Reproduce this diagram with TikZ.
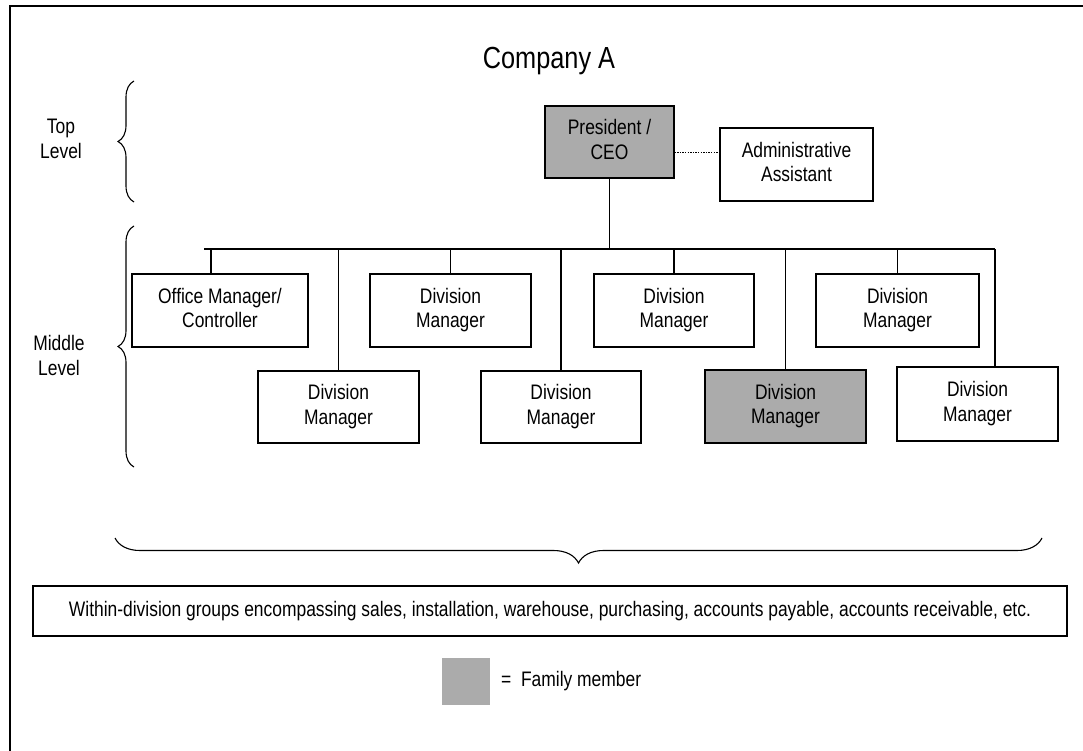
\documentclass[tikz,border=0pt]{standalone}
\usepackage{fontspec}
\setmainfont{Liberation Sans}
\usetikzlibrary{decorations.pathreplacing}
% all lettering in the chart is set slightly condensed
\newcommand\narrow[1]{\scalebox{0.83}[1]{#1}}
\newcommand\twolines[2]{\scalebox{0.83}[1]{\begin{tabular}{@{}c@{}}#1\\#2\end{tabular}}}
\begin{document}
\begin{tikzpicture}[x=1pt,y=-1pt,
  lbl/.style={font=\fontsize{21}{24.5}\selectfont, inner sep=0pt},
  orgbox/.style={draw, line width=1.2pt, inner sep=0pt, font=\fontsize{21}{24.5}\selectfont},
  family/.style={fill=black!33},
  link/.style={line width=1.1pt},
  bracket/.style={decorate, decoration={brace, amplitude=#1}, line width=1.1pt}]
\useasboundingbox (0,0) rectangle (1083,751);

% page frame
\draw[line width=1.3pt] (10,751) -- (10,6) -- (1083,6);

% title
\node[lbl, anchor=base] (title) at (549,69) {\fontsize{30.5}{36}\selectfont\narrow{Company A}};

% top level
\node[orgbox, family, minimum width=129pt, minimum height=72pt] (ceo) at (609.5,142) {\twolines{President /}{CEO}};
\node[orgbox, minimum width=153pt, minimum height=73pt] (asst) at (796.5,164.5) {\twolines{Administrative}{Assistant}};

% middle level, upper row
\node[orgbox, minimum width=176pt, minimum height=73pt] (office) at (220,310.5) {\twolines{Office Manager/}{Controller}};
\node[orgbox, minimum width=161pt, minimum height=73pt] (dm2) at (450.5,310.5) {\twolines{Division}{Manager}};
\node[orgbox, minimum width=160pt, minimum height=73pt] (dm4) at (674,310.5) {\twolines{Division}{Manager}};
\node[orgbox, minimum width=163pt, minimum height=73pt] (dm6) at (897.5,310.5) {\twolines{Division}{Manager}};

% middle level, lower row
\node[orgbox, minimum width=161pt, minimum height=72pt] (dm1) at (338.5,407) {\twolines{Division}{Manager}};
\node[orgbox, minimum width=160pt, minimum height=72pt] (dm3) at (561,407) {\twolines{Division}{Manager}};
\node[orgbox, family, minimum width=161pt, minimum height=73pt] (dm5) at (785.5,406.5) {\twolines{Division}{Manager}};
\node[orgbox, minimum width=161pt, minimum height=74pt] (dm7) at (977.5,404) {\twolines{Division}{Manager}};

% reporting lines
\coordinate (busL) at (204,249);
\coordinate (busR) at (995,249);
\draw[link] (busL) -- (busR);
\draw[link] (ceo.south) -- (ceo.south |- busL);
\draw[link] ([xshift=-9pt]office.north) -- ([xshift=-9pt]office.north |- busL);
\draw[link] (dm2.north) -- (dm2.north |- busL);
\draw[link] (dm4.north) -- (dm4.north |- busL);
\draw[link] (dm6.north) -- (dm6.north |- busL);
\draw[link] (dm1.north) -- (dm1.north |- busL);
\draw[link] (dm3.north) -- (dm3.north |- busL);
\draw[link] (dm5.north) -- (dm5.north |- busL);
\draw[link] ([xshift=17.5pt]dm7.north) -- ([xshift=17.5pt]dm7.north |- busR);

% staff relation
\coordinate (staff) at (697,153);
\draw[line width=1pt, dash pattern=on 1.3pt off 1.3pt] (ceo.east |- staff) -- (asst.west |- staff);

% level braces and labels
\draw[bracket=16pt] (134,202) -- (134,81);
\draw[bracket=16pt] (134,467) -- (134,226);
\node[lbl] (toplvl) at (61,141) {\twolines{Top}{Level}};
\node[lbl] (midlvl) at (59,358) {\twolines{Middle}{Level}};

% groups below the divisions
\draw[bracket=25pt] (1042,538) -- (115,538);
\node[orgbox, minimum width=1034pt, minimum height=50pt] (groups) at (550,611) {\narrow{Within-division groups encompassing sales, installation, warehouse, purchasing, accounts payable, accounts receivable, etc.}};

% legend
\node[family, minimum width=48pt, minimum height=47pt, inner sep=0pt] (swatch) at (466,681.5) {};
\node[lbl, anchor=west] (legend) at (501,681) {\narrow{=\ \ Family member}};
\end{tikzpicture}
\end{document}
